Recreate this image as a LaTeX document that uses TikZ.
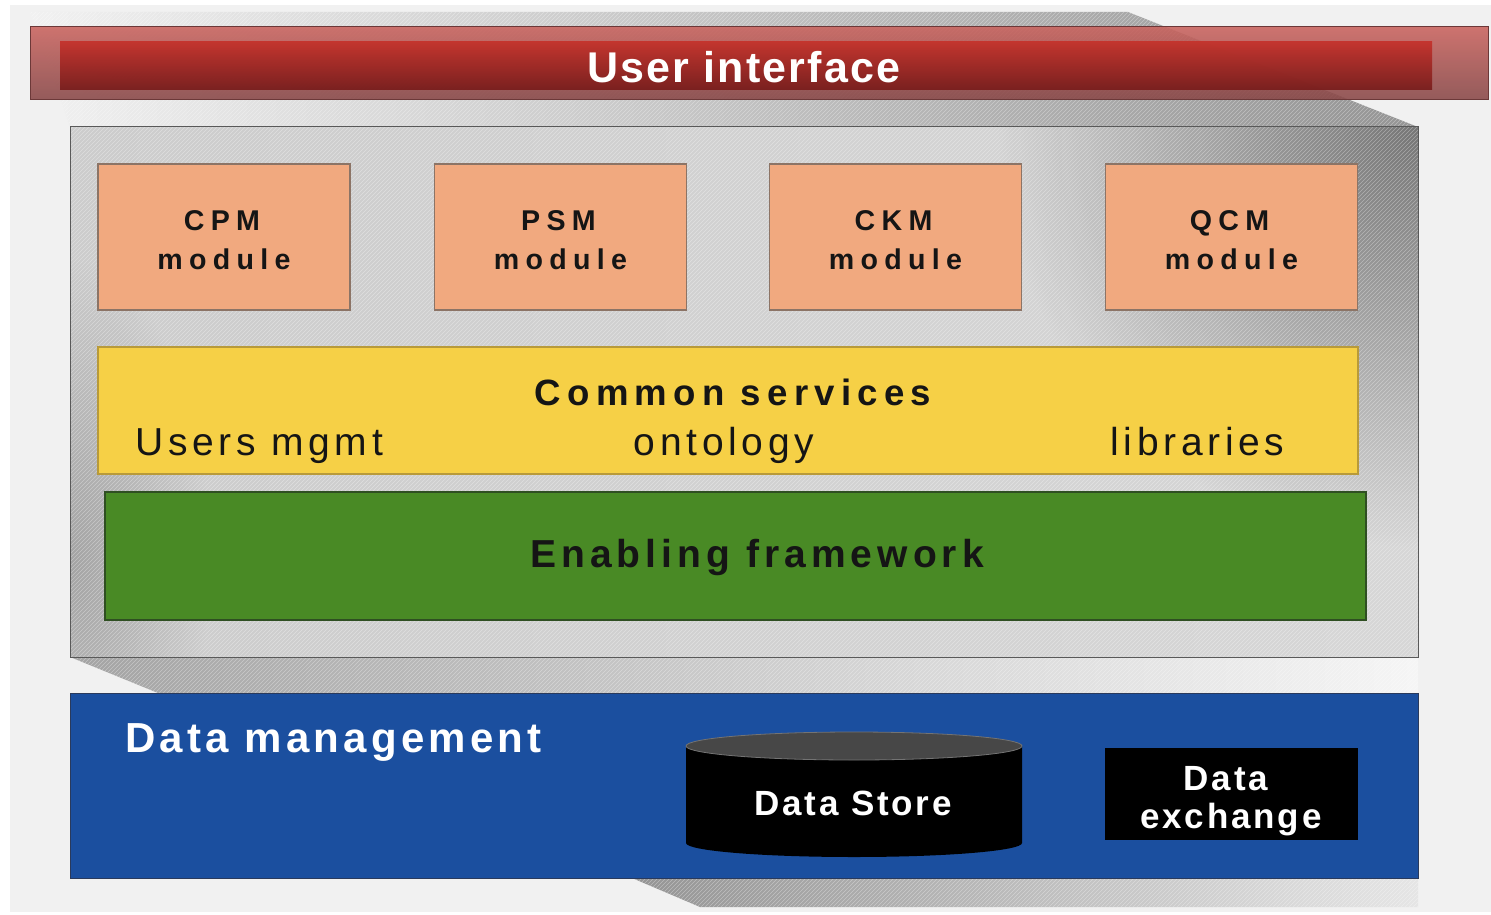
\documentclass[tikz,border=0pt]{standalone}
\usepackage{fontspec}
\setmainfont{Liberation Sans}
\newfontfamily\fUI[LetterSpace=5]{Liberation Sans}
\newfontfamily\fMod[LetterSpace=22]{Liberation Sans}
\newfontfamily\fCom[LetterSpace=17]{Liberation Sans}
\newfontfamily\fReg[LetterSpace=12]{Liberation Sans}
\newfontfamily\fEn[LetterSpace=13]{Liberation Sans}
\newfontfamily\fDm[LetterSpace=10]{Liberation Sans}
\newfontfamily\fDs[LetterSpace=8]{Liberation Sans}
\usetikzlibrary{fadings}
\tikzfading[name=softspot, inner color=transparent!0, outer color=transparent!100]
\definecolor{bgc}{HTML}{F1F1F1}
\definecolor{modc}{HTML}{F1A97F}
\definecolor{modb}{HTML}{8C7466}
\definecolor{yelc}{HTML}{F6D046}
\definecolor{yelb}{HTML}{B89A3A}
\definecolor{grnc}{HTML}{498A25}
\definecolor{grnb}{HTML}{2F4F22}
\definecolor{bluc}{HTML}{1B4F9F}
\definecolor{blub}{HTML}{2A3A5C}
\definecolor{redo1}{HTML}{C9625D}
\definecolor{redo2}{HTML}{874646}
\definecolor{redi1}{HTML}{C3312A}
\definecolor{redi2}{HTML}{B02A25}
\definecolor{redi3}{HTML}{771C1B}
\definecolor{txtc}{HTML}{151515}
\begin{document}
\begin{tikzpicture}[x=0.5pt,y=-0.5pt,
  hatchline/.style={draw=white,line width=0.3pt,opacity=0.35},
  uiouter/.style={draw=redo2!80!black,line width=0.5pt,top color=redo1,bottom color=redo2,fill opacity=0.88,minimum width=729pt,minimum height=36.5pt,inner sep=0pt},
  uiinner/.style={top color=redi1,middle color=redi2,bottom color=redi3,fill opacity=0.92,minimum width=686pt,minimum height=24pt,inner sep=0pt},
  panelbox/.style={draw=black!65,line width=0.5pt,minimum width=674pt,minimum height=265pt,inner sep=0pt},
  modbox/.style={draw=modb,line width=0.6pt,fill=modc,minimum width=126pt,minimum height=73pt,inner sep=0pt},
  modtxt/.style={font=\fMod\bfseries\fontsize{14.3}{17}\selectfont,text=txtc,anchor=base,inner sep=0pt},
  yelbox/.style={draw=yelb,line width=0.6pt,fill=yelc,minimum width=630pt,minimum height=63.5pt,inner sep=0pt},
  grnbox/.style={draw=grnb,line width=0.6pt,fill=grnc,minimum width=630.5pt,minimum height=64pt,inner sep=0pt},
  blubox/.style={draw=blub,line width=0.5pt,fill=bluc,minimum width=674pt,minimum height=92.5pt,inner sep=0pt},
  dxbox/.style={fill=black,minimum width=126.5pt,minimum height=46pt,inner sep=0pt},
  regtxt/.style={font=\fReg\fontsize{19.5}{22}\selectfont,text=txtc,inner sep=0pt},
  whtxt/.style={text=white,inner sep=0pt,anchor=base}]
\useasboundingbox (0,0) rectangle (1491,914);
\fill[white] (0,0) rectangle (1491,914);
\fill[bgc] (10,5) rectangle (1491,912);
% shadow behind the panel (top)
\path[left color=bgc,right color=black!42] (30,12) -- (1128,12) -- (1418,127) -- (70,127) -- cycle;
% shadow between panel and data management
\path[left color=black!36,right color=bgc!70!white] (70,657) -- (1418,657) -- (1418,693) -- (158,693) -- cycle;
% shadow under data management
\path[left color=black!42,right color=black!10] (632,878) -- (1418,878) -- (1418,907) -- (700,907) -- cycle;
% central panel shading
\path[left color=black!20,middle color=black!6,right color=black!16] (70,127) rectangle (1418,657);
\begin{scope}
  \clip (70,127) rectangle (1418,657);
  \fill[black,opacity=0.45,path fading=softspot] (1418,127) ellipse[x radius=420,y radius=420];
  \fill[black,opacity=0.2,path fading=softspot] (70,560) ellipse[x radius=140,y radius=300];
\end{scope}
% fine hatch over shadows and panel
\begin{scope}
  \clip (30,12) -- (1128,12) -- (1418,127) -- (1418,693) -- (158,693) -- (70,657) -- (70,127) -- cycle
        (632,878) -- (1418,878) -- (1418,907) -- (700,907) -- cycle;
  \foreach \i in {0,4,...,2400} {\draw[hatchline] (\i-920,920) -- (\i,0);}
\end{scope}
\node[panelbox] (pnl) at (744,392) {};
% user interface bar
\node[uiouter] (uio) at (759,63.5) {};
\node[uiinner] (uii) at (746,66) {};
\node[whtxt,font=\fUI\bfseries\fontsize{21.5}{24}\selectfont] (uit) at (744,83) {User interface};
% modules
\node[modbox] (cpm) at (224,237) {};
\node[modbox] (psm) at (560.5,237) {};
\node[modbox] (ckm) at (895.5,237) {};
\node[modbox] (qcm) at (1231.5,237) {};
\node[modtxt] (cpmA) at (222,231) {CPM};
\node[modtxt] (cpmB) at (224,270) {module};
\node[modtxt] (psmA) at (558.5,231) {PSM};
\node[modtxt] (psmB) at (560.5,270) {module};
\node[modtxt] (ckmA) at (893.5,231) {CKM};
\node[modtxt] (ckmB) at (895.5,270) {module};
\node[modtxt] (qcmA) at (1229.5,231) {QCM};
\node[modtxt] (qcmB) at (1231.5,270) {module};
% common services
\node[yelbox] (com) at (728,410.5) {};
\node[font=\fCom\bfseries\fontsize{18.3}{21}\selectfont,text=txtc,inner sep=0pt,anchor=base] (comt) at (733,405) {Common services};
\node[regtxt,anchor=base west] (usr) at (135,455) {Users mgmt};
\node[regtxt,anchor=base] (ont) at (724,455) {ontology};
\node[regtxt,anchor=base west] (lib) at (1110,455) {libraries};
% enabling framework
\node[grnbox] (enf) at (735.5,556) {};
\node[font=\fEn\bfseries\fontsize{19.5}{22}\selectfont,text=txtc,inner sep=0pt,anchor=base] (enft) at (757,567) {Enabling framework};
% data management
\node[blubox] (dm) at (744,785.5) {};
\node[whtxt,anchor=base west,font=\fDm\bfseries\fontsize{21}{24}\selectfont] (dmt) at (125,752) {Data management};
% data store cylinder
\fill[black] (686,746) -- (686,843) arc[start angle=180,end angle=0,x radius=168,y radius=14] -- (1022,746) -- cycle;
\fill[black!72,draw=black!55,line width=0.4pt] (854,746) ellipse[x radius=168,y radius=14];
\node[whtxt,font=\fDs\bfseries\fontsize{17.5}{20}\selectfont] (dst) at (853,815) {Data Store};
% data exchange
\node[dxbox] (dx) at (1231.5,794) {};
\node[whtxt,font=\fDs\bfseries\fontsize{17.5}{20}\selectfont] (dxa) at (1226,790) {Data};
\node[whtxt,font=\fDs\bfseries\fontsize{17.5}{20}\selectfont] (dxb) at (1231,828) {exchange};
\end{tikzpicture}
\end{document}
